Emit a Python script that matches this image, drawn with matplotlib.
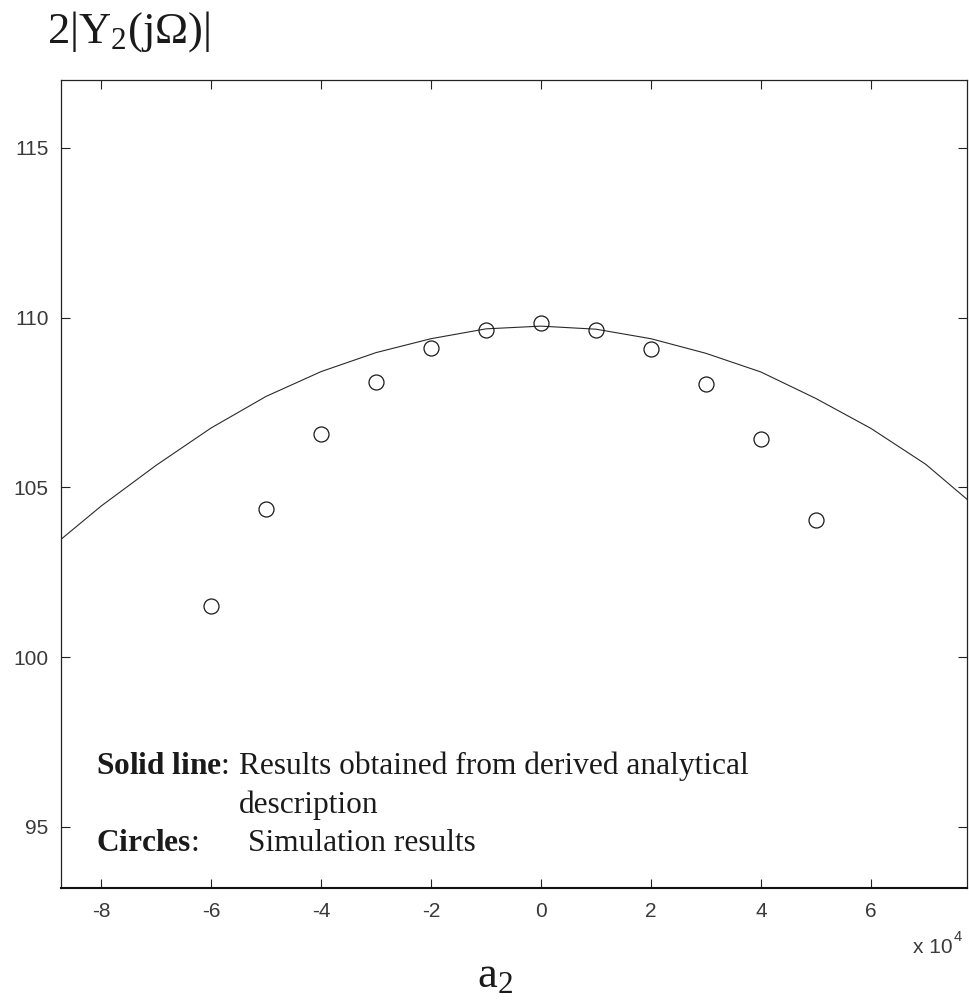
import matplotlib
matplotlib.use("Agg")
import matplotlib.pyplot as plt
from matplotlib.ticker import FixedLocator, FuncFormatter

# Analytical curve (solid line): a2 in units of 1e4
line_a2 = [-8.73, -8, -7, -6, -5, -4, -3, -2, -1, 0, 1, 2, 3, 4, 5, 6, 7, 7.75]
line_y = [103.47, 104.45, 105.65, 106.75, 107.68, 108.41, 108.97, 109.38, 109.67,
          109.75, 109.66, 109.38, 108.95, 108.40, 107.62, 106.74, 105.68, 104.65]

# Simulation results (circles)
sim_a2 = [-6, -5, -4, -3, -2, -1, 0, 1, 2, 3, 4, 5]
sim_y = [101.5, 104.35, 106.57, 108.1, 109.1, 109.65, 109.85, 109.65, 109.08,
         108.05, 106.43, 104.05]

x_ticks = [-8, -6, -4, -2, 0, 2, 4, 6]
y_ticks = [95, 100, 105, 110, 115]
scale = 1e4

plt.rcParams['mathtext.fontset'] = 'custom'
plt.rcParams['mathtext.rm'] = 'Liberation Serif'
plt.rcParams['mathtext.it'] = 'Liberation Serif:italic'
plt.rcParams['mathtext.bf'] = 'Liberation Serif:bold'

W, H = 970, 1001
fig = plt.figure(figsize=(W / 100, H / 100), dpi=100)
fig.patch.set_facecolor('white')

ax_l, ax_r, ax_t, ax_b = 61, 967, 80, 888
ax = fig.add_axes([ax_l / W, 1 - ax_b / H, (ax_r - ax_l) / W, (ax_b - ax_t) / H])

ax.plot([v * scale for v in line_a2], line_y, color='#2a2a2a', lw=0.8)
ax.plot([v * scale for v in sim_a2], sim_y, linestyle='none', marker='o',
        markersize=10.8, markerfacecolor='none', markeredgecolor='#1a1a1a',
        markeredgewidth=0.9)

ax.set_xlim(-8.73 * scale, 7.75 * scale)
ax.set_ylim(93.2, 117.0)

ax.xaxis.set_major_locator(FixedLocator([v * scale for v in x_ticks]))
ax.xaxis.set_major_formatter(FuncFormatter(lambda v, p: f"{v / scale:.0f}"))
ax.yaxis.set_major_locator(FixedLocator(y_ticks))
ax.yaxis.set_major_formatter(FuncFormatter(lambda v, p: f"{v:.0f}"))

tick_font = ['Liberation Sans', 'DejaVu Sans']
ax.tick_params(axis='both', which='major', direction='in', length=6.5,
               width=0.8, top=True, right=True, labelsize=15,
               labelcolor='#3a3a3a', color='#222222')
ax.tick_params(axis='x', pad=10)
ax.tick_params(axis='y', pad=9)
for lab in ax.get_xticklabels() + ax.get_yticklabels():
    lab.set_family(tick_font)

for side in ['left', 'right', 'top']:
    ax.spines[side].set_linewidth(0.9)
    ax.spines[side].set_color('#222222')
ax.spines['bottom'].set_linewidth(1.5)
ax.spines['bottom'].set_color('#111111')


def px(x, y):
    return x / W, 1 - y / H


serif = 'Liberation Serif'
# Axis titles
fig.text(*px(47, 43), r'$2|\mathrm{Y}_2(\mathrm{j}\Omega)|$', fontsize=32,
         va='baseline', ha='left', color='#1a1a1a')
fig.text(*px(477, 987), r'$\mathrm{a}_2$', fontsize=32, va='baseline',
         ha='left', color='#1a1a1a')

# Exponent of the x axis
fig.text(*px(913, 953), 'x 10', fontsize=15, family=tick_font, va='baseline',
         ha='left', color='#3a3a3a')
fig.text(*px(954, 941), '4', fontsize=10.5, family=tick_font, va='baseline',
         ha='left', color='#3a3a3a')

# Explanatory notes
note_fs = 22.6
fig.text(*px(96, 774), r'$\mathbf{Solid\ line}$:', fontsize=note_fs,
         family=serif, va='baseline', ha='left', color='#1a1a1a')
fig.text(*px(239, 774), 'Results obtained from derived analytical',
         fontsize=note_fs, family=serif, va='baseline', ha='left', color='#1a1a1a')
fig.text(*px(239, 813), 'description', fontsize=note_fs, family=serif,
         va='baseline', ha='left', color='#1a1a1a')
fig.text(*px(96, 851), r'$\mathbf{Circles}$:', fontsize=note_fs,
         family=serif, va='baseline', ha='left', color='#1a1a1a')
fig.text(*px(248, 851), 'Simulation results', fontsize=note_fs, family=serif,
         va='baseline', ha='left', color='#1a1a1a')

fig.savefig('out.png', dpi=100, facecolor='white')
